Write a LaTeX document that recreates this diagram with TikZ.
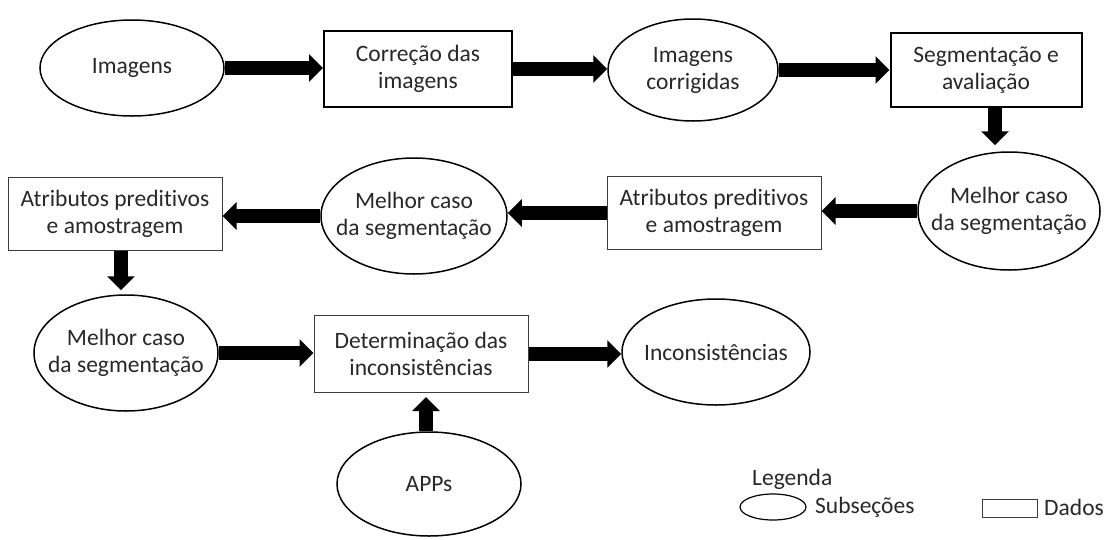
\documentclass[tikz,border=0pt]{standalone}
\usepackage{fontspec}
\setmainfont{Carlito}[Ligatures=NoCommon]
\usetikzlibrary{shapes.geometric,arrows.meta,calc}
\definecolor{txt}{RGB}{40,40,40}
\definecolor{thinline}{RGB}{60,60,60}
\begin{document}
\begin{tikzpicture}[x=1pt,y=-1pt,
  font=\fontsize{23.5}{27}\selectfont, text=txt,
  ell/.style={ellipse, draw=black, line width=1.5pt, inner sep=0pt},
  boxthick/.style={rectangle, draw=black, line width=2pt, align=center, inner sep=0pt},
  boxthin/.style={rectangle, draw=thinline, line width=1pt, align=center, inner sep=0pt},
  lbl/.style={align=center},
  blk/.style={line width=14pt, -{Triangle[width=27pt,length=14pt]}, draw=black}]
\useasboundingbox (0,0) rectangle (1104,539);
\fill[white] (0,0) rectangle (1104,539);

% Row 1
\node[ell, minimum width=184pt, minimum height=96pt,
      label={[lbl]center:Imagens}] (im) at (132,68) {};
\node[boxthick, minimum width=188pt, minimum height=76pt] (cor) at (418,69) {Correção das\\imagens};
\node[ell, minimum width=170pt, minimum height=102pt,
      label={[lbl]center:Imagens\\corrigidas}] (imc) at (693,70) {};
\node[boxthick, minimum width=191pt, minimum height=74pt] (seg) at (986,70) {Segmentação e\\avaliação};

% Row 2
\node[ell, minimum width=182pt, minimum height=118pt,
      label={[lbl]center:Melhor caso\\da segmentação}] (mc1) at (1009,211) {};
\node[boxthin, minimum width=214pt, minimum height=73pt] (at1) at (714,213) {Atributos preditivos\\e amostragem};
\node[ell, minimum width=186pt, minimum height=116pt,
      label={[lbl]center:Melhor caso\\da segmentação}] (mc2) at (414,216) {};
\node[boxthin, minimum width=214pt, minimum height=73pt] (at2) at (115,214) {Atributos preditivos\\e amostragem};

% Row 3
\node[ell, minimum width=184pt, minimum height=116pt,
      label={[lbl]center:Melhor caso\\da segmentação}] (mc3) at (126,353) {};
\node[boxthin, minimum width=214pt, minimum height=77pt] (det) at (421,354) {Determinação das\\inconsistências};
\node[ell, minimum width=188pt, minimum height=106pt,
      label={[lbl]center:Inconsistências}] (inc) at (716,352) {};
\node[ell, minimum width=184pt, minimum height=104pt,
      label={[lbl]center:APPs}] (app) at (429,484) {};

% Arrows
\draw[blk] (im.east) -- (im.east -| cor.west);
\draw[blk] (cor.east) -- (cor.east -| imc.west);
\draw[blk] (imc.east) -- (imc.east -| seg.west);
\draw[blk] ([xshift=9pt]seg.south) -- ([xshift=9pt,yshift=6pt]seg.south |- mc1.north);
\draw[blk] (mc1.west) -- (mc1.west -| at1.east);
\draw[blk] (at1.west) -- (at1.west -| mc2.east);
\draw[blk] (mc2.west) -- (mc2.west -| at2.east);
\draw[blk] ([xshift=6pt]at2.south) -- ([xshift=6pt,yshift=4pt]at2.south |- mc3.north);
\draw[blk] (mc3.east) -- (mc3.east -| det.west);
\draw[blk] (det.east) -- (det.east -| inc.west);
\draw[blk] ([xshift=-3pt]app.north) -- ([xshift=-3pt,yshift=-4pt]app.north |- det.south);

% Legend
\node[anchor=west, inner sep=0pt] (leg) at (752,479) {Legenda};
\node[ell, line width=1.2pt, minimum width=66pt, minimum height=26pt] (lege) at (773,507) {};
\node[anchor=west, inner sep=0pt] (sub) at (815,507) {Subseções};
\node[rectangle, draw=thinline, line width=1pt, minimum width=55pt, minimum height=18pt, inner sep=0pt] (legr) at (1009.5,508) {};
\node[anchor=west, inner sep=0pt] (dad) at (1044,507) {Dados};
\end{tikzpicture}
\end{document}
